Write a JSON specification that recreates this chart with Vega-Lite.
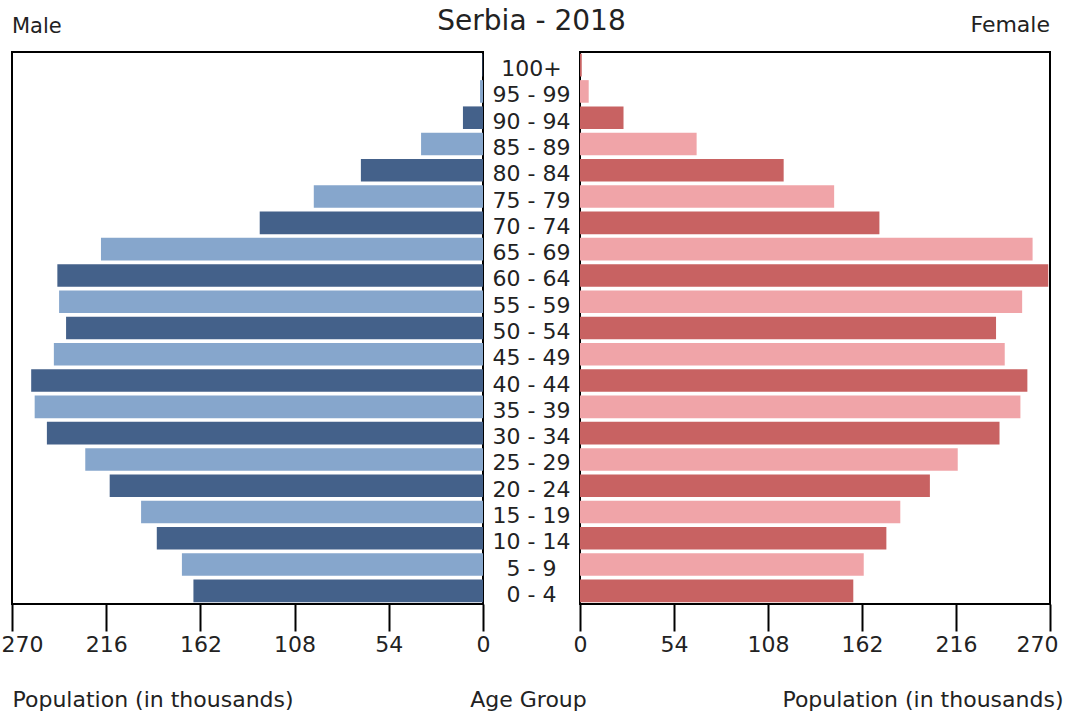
{
  "$schema": "https://vega.github.io/schema/vega-lite/v6.json",
  "padding": {"top": 8, "left": 0, "right": 2, "bottom": 2},
  "background": "white",
  "datasets": {
    "pop": [
      {"age": "100+", "male": 0.3, "female": 1},
      {"age": "95 - 99", "male": 1.7, "female": 5},
      {"age": "90 - 94", "male": 11.5, "female": 25},
      {"age": "85 - 89", "male": 35.5, "female": 67},
      {"age": "80 - 84", "male": 70, "female": 117},
      {"age": "75 - 79", "male": 97, "female": 146},
      {"age": "70 - 74", "male": 128, "female": 172},
      {"age": "65 - 69", "male": 219, "female": 260},
      {"age": "60 - 64", "male": 244, "female": 269},
      {"age": "55 - 59", "male": 243, "female": 254},
      {"age": "50 - 54", "male": 239, "female": 239},
      {"age": "45 - 49", "male": 246, "female": 244},
      {"age": "40 - 44", "male": 259, "female": 257},
      {"age": "35 - 39", "male": 257, "female": 253},
      {"age": "30 - 34", "male": 250, "female": 241},
      {"age": "25 - 29", "male": 228, "female": 217},
      {"age": "20 - 24", "male": 214, "female": 201},
      {"age": "15 - 19", "male": 196, "female": 184},
      {"age": "10 - 14", "male": 187, "female": 176},
      {"age": "5 - 9", "male": 172.6, "female": 163},
      {"age": "0 - 4", "male": 166, "female": 157}
    ]
  },
  "data": {"name": "pop"},
  "spacing": 0,
  "bounds": "flush",
  "config": {
    "font": "DejaVu Sans",
    "view": {"stroke": "black", "strokeWidth": 2},
    "title": {"fontWeight": "normal", "color": "#222", "baseline": "alphabetic"},
    "axis": {
      "domain": false,
      "grid": false,
      "tickColor": "black",
      "tickWidth": 2,
      "tickSize": 27,
      "labelFontSize": 22,
      "labelColor": "#222",
      "labelPadding": 3,
      "labelFlush": false,
      "titleFontSize": 22,
      "titleFontWeight": "normal",
      "titleColor": "#222",
      "titleBaseline": "alphabetic",
      "titleY": 102
    }
  },
  "hconcat": [
    {
      "width": 471,
      "height": 552,
      "title": {"text": "Male", "anchor": "start", "frame": "group", "fontSize": 21, "offset": 15},
      "mark": {"type": "bar"},
      "encoding": {
        "y": {
          "field": "age", "type": "nominal",
          "sort": ["100+", "95 - 99", "90 - 94", "85 - 89", "80 - 84", "75 - 79", "70 - 74", "65 - 69", "60 - 64", "55 - 59", "50 - 54", "45 - 49", "40 - 44", "35 - 39", "30 - 34", "25 - 29", "20 - 24", "15 - 19", "10 - 14", "5 - 9", "0 - 4"],
          "scale": {"paddingInner": 0.14, "paddingOuter": 0.07},
          "axis": null
        },
        "x": {
          "field": "male", "type": "quantitative",
          "scale": {"domain": [0, 270], "reverse": true, "nice": false, "zero": true},
          "axis": {
            "values": [0, 54, 108, 162, 216, 270],
            "title": "Population (in thousands)",
            "titleX": 0,
            "titleAlign": "left",
            "labelOffset": {"expr": "datum.value == 270 ? 10 : 0"}
          }
        },
        "color": {
          "field": "age", "type": "nominal",
          "scale": {
            "domain": ["100+", "95 - 99", "90 - 94", "85 - 89", "80 - 84", "75 - 79", "70 - 74", "65 - 69", "60 - 64", "55 - 59", "50 - 54", "45 - 49", "40 - 44", "35 - 39", "30 - 34", "25 - 29", "20 - 24", "15 - 19", "10 - 14", "5 - 9", "0 - 4"],
            "range": ["#44618a", "#86a6cc", "#44618a", "#86a6cc", "#44618a", "#86a6cc", "#44618a", "#86a6cc", "#44618a", "#86a6cc", "#44618a", "#86a6cc", "#44618a", "#86a6cc", "#44618a", "#86a6cc", "#44618a", "#86a6cc", "#44618a", "#86a6cc", "#44618a"]
          },
          "legend": null
        }
      }
    },
    {
      "width": 97,
      "height": 552,
      "view": {"stroke": null},
      "title": {"text": "Serbia - 2018", "anchor": "middle", "frame": "group", "fontSize": 28, "offset": 16},
      "mark": {"type": "text", "fontSize": 22, "dy": 4, "color": "#222"},
      "encoding": {
        "y": {
          "field": "age", "type": "nominal",
          "sort": ["100+", "95 - 99", "90 - 94", "85 - 89", "80 - 84", "75 - 79", "70 - 74", "65 - 69", "60 - 64", "55 - 59", "50 - 54", "45 - 49", "40 - 44", "35 - 39", "30 - 34", "25 - 29", "20 - 24", "15 - 19", "10 - 14", "5 - 9", "0 - 4"],
          "scale": {"paddingInner": 0.14, "paddingOuter": 0.07},
          "axis": null
        },
        "x": {
          "datum": 0, "type": "quantitative",
          "scale": {"domain": [-1, 1]},
          "axis": {"title": "Age Group", "ticks": false, "labels": false, "titleX": 45, "titleAlign": "center"}
        },
        "text": {"field": "age"}
      }
    },
    {
      "width": 470,
      "height": 552,
      "title": {"text": "Female", "anchor": "end", "frame": "group", "fontSize": 22, "offset": 15},
      "mark": {"type": "bar"},
      "encoding": {
        "y": {
          "field": "age", "type": "nominal",
          "sort": ["100+", "95 - 99", "90 - 94", "85 - 89", "80 - 84", "75 - 79", "70 - 74", "65 - 69", "60 - 64", "55 - 59", "50 - 54", "45 - 49", "40 - 44", "35 - 39", "30 - 34", "25 - 29", "20 - 24", "15 - 19", "10 - 14", "5 - 9", "0 - 4"],
          "scale": {"paddingInner": 0.14, "paddingOuter": 0.07},
          "axis": null
        },
        "x": {
          "field": "female", "type": "quantitative",
          "scale": {"domain": [0, 270], "nice": false, "zero": true},
          "axis": {
            "values": [0, 54, 108, 162, 216, 270],
            "title": "Population (in thousands)",
            "titleX": 483,
            "titleAlign": "right",
            "labelOffset": {"expr": "datum.value == 270 ? -13 : 0"}
          }
        },
        "color": {
          "field": "age", "type": "nominal",
          "scale": {
            "domain": ["100+", "95 - 99", "90 - 94", "85 - 89", "80 - 84", "75 - 79", "70 - 74", "65 - 69", "60 - 64", "55 - 59", "50 - 54", "45 - 49", "40 - 44", "35 - 39", "30 - 34", "25 - 29", "20 - 24", "15 - 19", "10 - 14", "5 - 9", "0 - 4"],
            "range": ["#c86262", "#f0a4a8", "#c86262", "#f0a4a8", "#c86262", "#f0a4a8", "#c86262", "#f0a4a8", "#c86262", "#f0a4a8", "#c86262", "#f0a4a8", "#c86262", "#f0a4a8", "#c86262", "#f0a4a8", "#c86262", "#f0a4a8", "#c86262", "#f0a4a8", "#c86262"]
          },
          "legend": null
        }
      }
    }
  ],
  "resolve": {"scale": {"color": "independent"}}
}
